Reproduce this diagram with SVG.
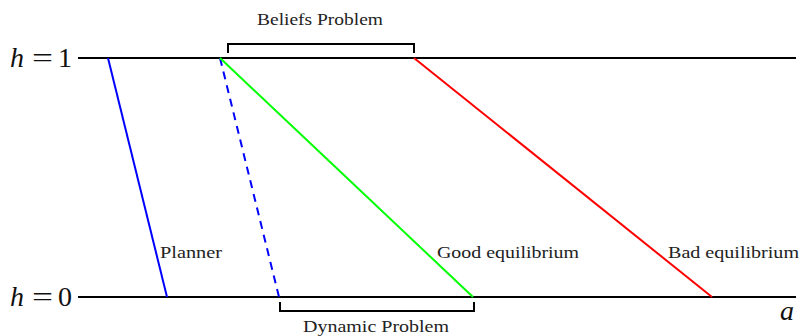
<svg xmlns="http://www.w3.org/2000/svg" width="800" height="336" viewBox="0 0 800 336">
<style>
.axis{stroke:#000;stroke-width:2;fill:none}
.br{stroke:#000;stroke-width:2;fill:none}
.t{font-family:"Liberation Serif",serif;font-size:17px;fill:#222}
.m{font-family:"Liberation Serif",serif;font-size:28px;fill:#111}
.c{stroke-width:2;fill:none}
</style>
<rect width="800" height="336" fill="#fff"/>
<g id="axes">
<line class="axis" x1="78" y1="58" x2="796" y2="58"/>
<line class="axis" x1="78" y1="297" x2="796" y2="297"/>
</g>
<g id="label-h1"><text class="m" y="67"><tspan x="10" font-style="italic">h</tspan><tspan x="32" textLength="21" lengthAdjust="spacingAndGlyphs">=</tspan><tspan x="58">1</tspan></text></g>
<g id="label-h0"><text class="m" y="306"><tspan x="10" font-style="italic">h</tspan><tspan x="32" textLength="21" lengthAdjust="spacingAndGlyphs">=</tspan><tspan x="58">0</tspan></text></g>
<g id="label-a"><text class="m" x="780" y="320" font-style="italic">a</text></g>
<g id="connectors">
<line class="c" stroke="#0000ff" x1="108" y1="58" x2="167" y2="297"/>
<line class="c" stroke="#0000ff" stroke-dasharray="8,6" x1="220" y1="58" x2="279" y2="297"/>
<line class="c" stroke="#00ff00" x1="220" y1="58" x2="473" y2="297"/>
<line class="c" stroke="#ff0000" x1="414" y1="58" x2="712" y2="297"/>
</g>
<g id="beliefs">
<polyline class="br" points="228,53 228,44 414,44 414,53"/>
<text class="t" x="257" y="25" textLength="126" lengthAdjust="spacingAndGlyphs">Beliefs Problem</text>
</g>
<g id="dynamic">
<polyline class="br" points="280,302 280,311 474,311 474,302"/>
<text class="t" x="303" y="332" textLength="146" lengthAdjust="spacingAndGlyphs">Dynamic Problem</text>
</g>
<g id="planner"><text class="t" x="160" y="258" textLength="62" lengthAdjust="spacingAndGlyphs">Planner</text></g>
<g id="good"><text class="t" x="437" y="258" textLength="142" lengthAdjust="spacingAndGlyphs">Good equilibrium</text></g>
<g id="bad"><text class="t" x="668" y="258" textLength="131" lengthAdjust="spacingAndGlyphs">Bad equilibrium</text></g>
</svg>
